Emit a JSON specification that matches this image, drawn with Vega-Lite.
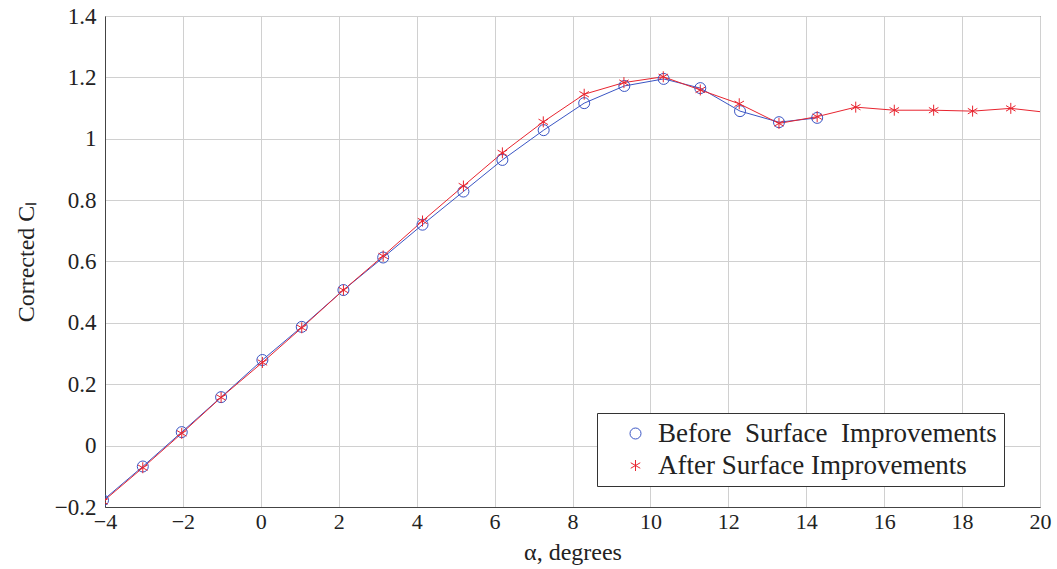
{
  "$schema": "https://vega.github.io/schema/vega-lite/v6.json",
  "width": 935,
  "height": 491,
  "autosize": {"type": "none"},
  "padding": {"left": 105, "top": 16, "right": 17, "bottom": 62},
  "background": "white",
  "config": {
    "view": {"stroke": "#444", "strokeWidth": 1},
    "font": "Liberation Serif",
    "axis": {
      "labelFont": "Liberation Serif", "labelFontSize": 22, "labelColor": "#222",
      "titleFont": "Liberation Serif", "titleFontSize": 24, "titleFontWeight": "normal", "titleColor": "#222",
      "gridColor": "#d0d0d0", "gridWidth": 1, "domainColor": "#444", "tickSize": 0, "tickColor": "#666"
    }
  },
  "data": {
    "values": [
      {"series": "Before Surface Improvements", "alpha": -4.05, "cl": -0.178},
      {"series": "Before Surface Improvements", "alpha": -3.03, "cl": -0.068},
      {"series": "Before Surface Improvements", "alpha": -2.03, "cl": 0.044},
      {"series": "Before Surface Improvements", "alpha": -1.02, "cl": 0.158},
      {"series": "Before Surface Improvements", "alpha": 0.04, "cl": 0.279},
      {"series": "Before Surface Improvements", "alpha": 1.05, "cl": 0.387},
      {"series": "Before Surface Improvements", "alpha": 2.12, "cl": 0.507},
      {"series": "Before Surface Improvements", "alpha": 3.14, "cl": 0.613},
      {"series": "Before Surface Improvements", "alpha": 4.15, "cl": 0.72},
      {"series": "Before Surface Improvements", "alpha": 5.2, "cl": 0.828},
      {"series": "Before Surface Improvements", "alpha": 6.2, "cl": 0.931},
      {"series": "Before Surface Improvements", "alpha": 7.26, "cl": 1.028},
      {"series": "Before Surface Improvements", "alpha": 8.3, "cl": 1.116},
      {"series": "Before Surface Improvements", "alpha": 9.33, "cl": 1.172},
      {"series": "Before Surface Improvements", "alpha": 10.34, "cl": 1.195},
      {"series": "Before Surface Improvements", "alpha": 11.28, "cl": 1.165},
      {"series": "Before Surface Improvements", "alpha": 12.3, "cl": 1.09},
      {"series": "Before Surface Improvements", "alpha": 13.3, "cl": 1.054},
      {"series": "Before Surface Improvements", "alpha": 14.28, "cl": 1.068},
      {"series": "After Surface Improvements", "alpha": -4.05, "cl": -0.182},
      {"series": "After Surface Improvements", "alpha": -3.03, "cl": -0.072},
      {"series": "After Surface Improvements", "alpha": -2.03, "cl": 0.04},
      {"series": "After Surface Improvements", "alpha": -1.02, "cl": 0.157},
      {"series": "After Surface Improvements", "alpha": 0.04, "cl": 0.271},
      {"series": "After Surface Improvements", "alpha": 1.05, "cl": 0.384},
      {"series": "After Surface Improvements", "alpha": 2.12, "cl": 0.507},
      {"series": "After Surface Improvements", "alpha": 3.14, "cl": 0.618},
      {"series": "After Surface Improvements", "alpha": 4.15, "cl": 0.732},
      {"series": "After Surface Improvements", "alpha": 5.2, "cl": 0.846},
      {"series": "After Surface Improvements", "alpha": 6.2, "cl": 0.954},
      {"series": "After Surface Improvements", "alpha": 7.25, "cl": 1.055},
      {"series": "After Surface Improvements", "alpha": 8.3, "cl": 1.145},
      {"series": "After Surface Improvements", "alpha": 9.32, "cl": 1.183},
      {"series": "After Surface Improvements", "alpha": 10.33, "cl": 1.202},
      {"series": "After Surface Improvements", "alpha": 11.28, "cl": 1.159},
      {"series": "After Surface Improvements", "alpha": 12.28, "cl": 1.114},
      {"series": "After Surface Improvements", "alpha": 13.3, "cl": 1.05},
      {"series": "After Surface Improvements", "alpha": 14.28, "cl": 1.072},
      {"series": "After Surface Improvements", "alpha": 15.27, "cl": 1.103},
      {"series": "After Surface Improvements", "alpha": 16.26, "cl": 1.093},
      {"series": "After Surface Improvements", "alpha": 17.27, "cl": 1.093},
      {"series": "After Surface Improvements", "alpha": 18.27, "cl": 1.09},
      {"series": "After Surface Improvements", "alpha": 19.25, "cl": 1.099},
      {"series": "After Surface Improvements", "alpha": 20.3, "cl": 1.084}
    ]
  },
  "encoding": {
    "x": {
      "field": "alpha", "type": "quantitative",
      "scale": {"domain": [-4, 20], "nice": false, "zero": false},
      "axis": {"title": "α, degrees", "values": [-4, -2, 0, 2, 4, 6, 8, 10, 12, 14, 16, 18, 20], "labelPadding": 4, "titlePadding": 8, "labelFlush": false}
    },
    "y": {
      "field": "cl", "type": "quantitative",
      "scale": {"domain": [-0.2, 1.4], "nice": false, "zero": false},
      "axis": {"title": "Corrected Cₗ", "values": [-0.2, 0, 0.2, 0.4, 0.6, 0.8, 1, 1.2, 1.4], "labelExpr": "format(datum.value, '.1~f')", "labelFontSize": 23, "labelPadding": 9, "titlePadding": 16, "labelFlush": false}
    },
    "color": {
      "field": "series", "type": "nominal",
      "scale": {"domain": ["Before Surface Improvements", "After Surface Improvements"], "range": ["#3a55c4", "#e8242f"]},
      "legend": {
        "orient": "none", "legendX": 492, "legendY": 397, "title": null, "direction": "vertical",
        "fillColor": "white", "strokeColor": "#333", "padding": 7, "cornerRadius": 0,
        "labelFont": "Liberation Serif", "labelFontSize": 27, "labelColor": "#222", "labelLimit": 600,
        "labelExpr": "datum.value == 'Before Surface Improvements' ? 'Before\u00a0 Surface\u00a0 Improvements' : datum.value",
        "symbolSize": 121, "symbolOffset": 18, "labelOffset": 9, "rowPadding": 4, "symbolStrokeWidth": 1,
        "encode": {
          "symbols": {
            "update": {
              "fill": {"value": "transparent"},
              "strokeWidth": {"value": 1}
            }
          }
        }
      }
    }
  },
  "layer": [
    {"mark": {"type": "line", "clip": true, "strokeWidth": 1}},
    {
      "transform": [{"calculate": "datum.series", "as": "marker"}],
      "mark": {"type": "point", "clip": true, "filled": false, "strokeWidth": 1, "size": 121, "opacity": 1},
      "encoding": {
        "shape": {
          "field": "marker", "type": "nominal",
          "scale": {"domain": ["Before Surface Improvements", "After Surface Improvements"], "range": ["circle", "M0,-1L0,1M-0.866,-0.5L0.866,0.5M-0.866,0.5L0.866,-0.5"]},
          "legend": null
        }
      }
    }
  ]
}
